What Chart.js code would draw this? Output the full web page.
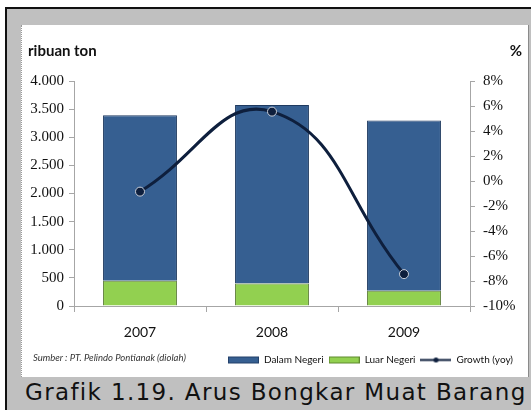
<!DOCTYPE html>
<html>
<head>
<meta charset="utf-8">
<script src="https://cdn.jsdelivr.net/npm/chart.js@4"></script>
<style>
  html, body { margin: 0; padding: 0; background: #ffffff; }
  body { width: 531px; height: 410px; position: relative; overflow: hidden; }
  #frame {
    position: absolute; left: 5px; top: 7px; width: 524px; height: 401px;
    background: #c0c0c0; border-left: 2px solid #111; border-top: 2px solid #111;
  }
  #panel {
    position: absolute; left: 14px; top: 16px; width: 506px; height: 352px;
    background: #ffffff; border-left: 1px dotted #9a9a9a; border-right: 1px solid #8a8a8a;
  }
  #panel canvas { position: absolute; left: 0; top: 0; }
  .unit { position: absolute; top: 16px; font-family: Lato, sans-serif; font-weight: bold; font-size: 15px; color: #111; }
  #unitLeft { left: 6px; }
  #unitRight { right: 6px; }
  #source {
    position: absolute; left: 11px; top: 327px; font-family: Lato, sans-serif; font-style: italic;
    font-size: 9.5px; color: #333;
  }
  #caption {
    position: absolute; left: 18px; top: 370px; font-family: "DejaVu Sans", sans-serif;
    font-size: 23px; letter-spacing: 1.35px; color: #111; white-space: nowrap;
  }
</style>
</head>
<body>
<div id="frame">
  <div id="panel">
    <canvas id="chart" width="506" height="352"></canvas>
    <div class="unit" id="unitLeft">ribuan ton</div>
    <div class="unit" id="unitRight">%</div>
    <div id="source">Sumber : PT. Pelindo Pontianak (diolah)</div>
  </div>
  <div id="caption">Grafik 1.19. Arus Bongkar Muat Barang</div>
</div>
<script>
// Cargo flows through the port, thousand tons, with year-on-year growth
const years = ['2007', '2008', '2009'];
const dalamNegeri = [2940, 3175, 3030];
const luarNegeri = [450, 400, 270];
const growthYoy = [-0.85, 5.55, -7.45];
const tonTickLabels = ['0', '500', '1.000', '1.500', '2.000', '2.500', '3.000', '3.500', '4.000'];
const pctTickLabels = ['-10%', '-8%', '-6%', '-4%', '-2%', '0%', '2%', '4%', '6%', '8%'];

const BLUE = '#365f91';
const GREEN = '#92d050';
const NAVY = '#0e1f3d';
const AXIS = '#a6a6a6';

function swatch(kind) {
  const c = document.createElement('canvas');
  c.width = 31; c.height = 9;
  const g = c.getContext('2d');
  if (kind === 'line') {
    g.strokeStyle = NAVY; g.lineWidth = 2;
    g.beginPath(); g.moveTo(0, 4.5); g.lineTo(31, 4.5); g.stroke();
    g.fillStyle = NAVY; g.beginPath(); g.arc(15.5, 4.5, 2.5, 0, Math.PI * 2); g.fill();
  } else {
    g.fillStyle = kind === 'blue' ? BLUE : GREEN;
    g.fillRect(0, 1, 31, 7);
    g.strokeStyle = kind === 'blue' ? '#23406a' : '#5f8a2e';
    g.lineWidth = 1; g.strokeRect(0.5, 1.5, 30, 6);
  }
  return c;
}

const tickFont = { family: '"Liberation Serif", serif', size: 15 };

new Chart(document.getElementById('chart'), {
  data: {
    labels: years,
    datasets: [
      {
        type: 'line', label: 'Growth (yoy)', data: growthYoy, yAxisID: 'y1',
        borderColor: NAVY, borderWidth: 3, tension: 0.45,
        pointRadius: 4.5, pointBackgroundColor: NAVY, pointBorderColor: '#c9ced8', pointBorderWidth: 1,
        order: 0
      },
      {
        type: 'bar', label: 'Luar Negeri', data: luarNegeri, yAxisID: 'y',
        backgroundColor: GREEN, borderColor: '#5f7f3a', borderWidth: 1, order: 1,
        categoryPercentage: 1, barPercentage: 0.56
      },
      {
        type: 'bar', label: 'Dalam Negeri', data: dalamNegeri, yAxisID: 'y',
        backgroundColor: BLUE, borderColor: '#1f3a60', borderWidth: 1, order: 1,
        categoryPercentage: 1, barPercentage: 0.56
      }
    ]
  },
  options: {
    responsive: false,
    animation: false,
    events: [],
    layout: { padding: { top: 56, left: 0, right: 10, bottom: 2 } },
    plugins: {
      tooltip: { enabled: false },
      legend: {
        position: 'bottom', align: 'end',
        labels: {
          usePointStyle: true, pointStyleWidth: 31, boxHeight: 9, padding: 5,
          font: { family: 'Lato, sans-serif', size: 10 }, color: '#111',
          generateLabels: () => [
            { text: 'Dalam Negeri', pointStyle: swatch('blue'), fontColor: '#111', lineWidth: 0, strokeStyle: 'transparent' },
            { text: 'Luar Negeri', pointStyle: swatch('green'), fontColor: '#111', lineWidth: 0, strokeStyle: 'transparent' },
            { text: 'Growth (yoy)', pointStyle: swatch('line'), fontColor: '#111', lineWidth: 0, strokeStyle: 'transparent' }
          ]
        }
      }
    },
    scales: {
      x: {
        stacked: true, offset: true,
        grid: { display: true, offset: true, drawOnChartArea: false, drawTicks: true, tickLength: 6, color: AXIS },
        border: { color: AXIS },
        ticks: { color: '#111', padding: 12, font: { family: 'Lato, sans-serif', size: 14 } },
        afterFit: s => { s.height = 44; }
      },
      y: {
        stacked: true, position: 'left', min: 0, max: 4000,
        grid: { drawOnChartArea: false, tickLength: 5, color: AXIS },
        border: { color: AXIS },
        ticks: { stepSize: 500, padding: 5, color: '#111', font: tickFont,
          callback: (v, i) => tonTickLabels[i] },
        afterFit: s => { s.width = 52; }
      },
      y1: {
        position: 'right', min: -10, max: 8,
        grid: { drawOnChartArea: false, tickLength: 5, color: AXIS },
        border: { color: AXIS },
        ticks: { stepSize: 2, padding: 8, color: '#111', font: tickFont,
          callback: (v, i) => pctTickLabels[i] },
        afterFit: s => { s.width = 48; }
      }
    }
  }
});
</script>
</body>
</html>
